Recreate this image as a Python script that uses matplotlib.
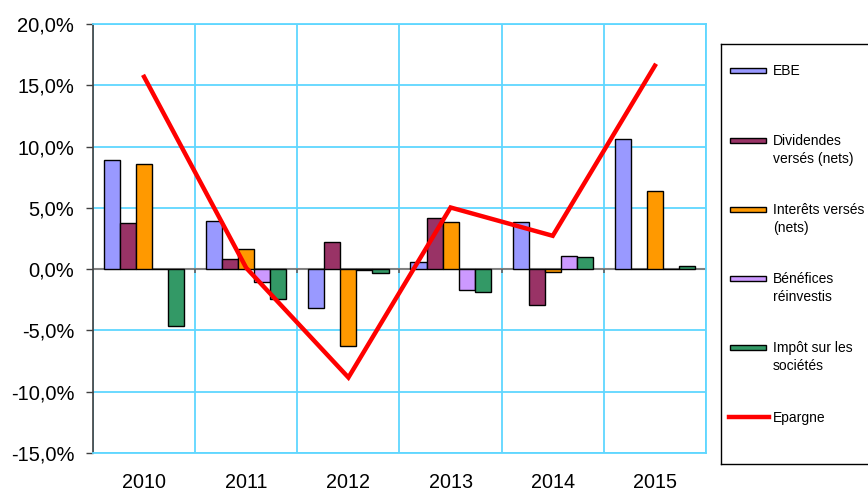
import numpy as np
import matplotlib
matplotlib.use("Agg")
import matplotlib.pyplot as plt
import matplotlib.patches as mpatches
from matplotlib.ticker import FuncFormatter, MultipleLocator

plt.rcParams["font.family"] = ["Liberation Sans", "DejaVu Sans"]

years = ["2010", "2011", "2012", "2013", "2014", "2015"]

ebe        = [8.87, 3.89, -3.13, 0.60, 3.86, 10.63]
dividendes = [3.78, 0.84, 2.23, 4.19, -2.91, 0.05]
interets   = [8.54, 1.66, -6.28, 3.86, -0.22, 6.34]
benefices  = [0.00, -1.03, -0.10, -1.71, 1.06, 0.00]
impot      = [-4.65, -2.47, -0.33, -1.88, 0.95, 0.27]
epargne    = [15.69, 0.10, -8.84, 5.03, 2.72, 16.60]

series_labels = ["EBE", "Dividendes\nversés (nets)", "Interêts versés\n(nets)",
                 "Bénéfices\nréinvestis", "Impôt sur les\nsociétés"]
line_label = "Epargne"
colors = ["#9999FF", "#993366", "#FF9900", "#CC99FF", "#339966"]
line_color = "#FF0000"
grid_color = "#5FD7FF"

W, H = 868, 493
fig = plt.figure(figsize=(W / 100, H / 100), dpi=100)
ax = fig.add_axes([93 / W, 1 - 453 / H, (706 - 93) / W, (453 - 24) / H])

x = np.arange(len(years))
bw = 0.157
all_series = [ebe, dividendes, interets, benefices, impot]
for k, (vals, c) in enumerate(zip(all_series, colors)):
    ax.bar(x + (k - 2) * bw, vals, width=bw, color=c, edgecolor="black",
           linewidth=1.0, zorder=3)

ax.plot(x, epargne, color=line_color, linewidth=3.2, zorder=4,
        solid_joinstyle="miter")

ax.set_xlim(-0.5, len(years) - 0.5)
ax.set_ylim(-15, 20)
ax.yaxis.set_major_locator(MultipleLocator(5))
ax.yaxis.set_major_formatter(FuncFormatter(lambda v, p: f"{v:.1f}%".replace(".", ",")))

# grid
for yv in np.arange(-15, 21, 5):
    if yv != 0:
        ax.axhline(yv, color=grid_color, linewidth=1.3, zorder=1)
for xb in np.arange(-0.5, len(years), 1.0):
    ax.axvline(xb, color=grid_color, linewidth=1.3, zorder=1)
ax.axhline(0, color="#808080", linewidth=1.5, zorder=2)
ax.vlines(np.arange(0.5, len(years) - 0.5, 1.0), -0.35, 0, color="#606060",
          linewidth=1.2, zorder=2)

ax.set_xticks(x)
ax.set_xticklabels(years)
ax.tick_params(axis="x", length=0, pad=14.5, labelsize=14.2)
ax.tick_params(axis="y", length=5, width=1, pad=8.5, labelsize=14.5, color="#404040")

for s in ["top", "right", "bottom"]:
    ax.spines[s].set_color(grid_color)
    ax.spines[s].set_linewidth(1.3)
ax.spines["left"].set_color("#404040")
ax.spines["left"].set_linewidth(1.2)

# legend box
lx0, ly0, ly1 = 721, 44, 464
lax = fig.add_axes([lx0 / W, 1 - ly1 / H, (W + 10 - lx0) / W, (ly1 - ly0) / H])
lax.set_xlim(lx0, W + 10)
lax.set_ylim(ly1, ly0)
lax.set_xticks([])
lax.set_yticks([])
for s in lax.spines.values():
    s.set_color("black")
    s.set_linewidth(1.0)

entry_y = [70.5, 140.5, 209.5, 278.5, 347.5]
for lab, c, yy in zip(series_labels, colors, entry_y):
    lax.add_patch(mpatches.Rectangle((730, yy - 2.5), 36, 5, facecolor=c,
                                     edgecolor="black", linewidth=1.0))
    for i, part in enumerate(lab.split("\n")):
        lax.text(773, yy + 5 + i * 18, part, fontsize=10, va="baseline",
                 ha="left")
lax.plot([729, 769], [417, 417], color=line_color, linewidth=3.2)
lax.text(773, 417 + 5, line_label, fontsize=10, va="baseline", ha="left")

fig.savefig("out.png", dpi=100)
